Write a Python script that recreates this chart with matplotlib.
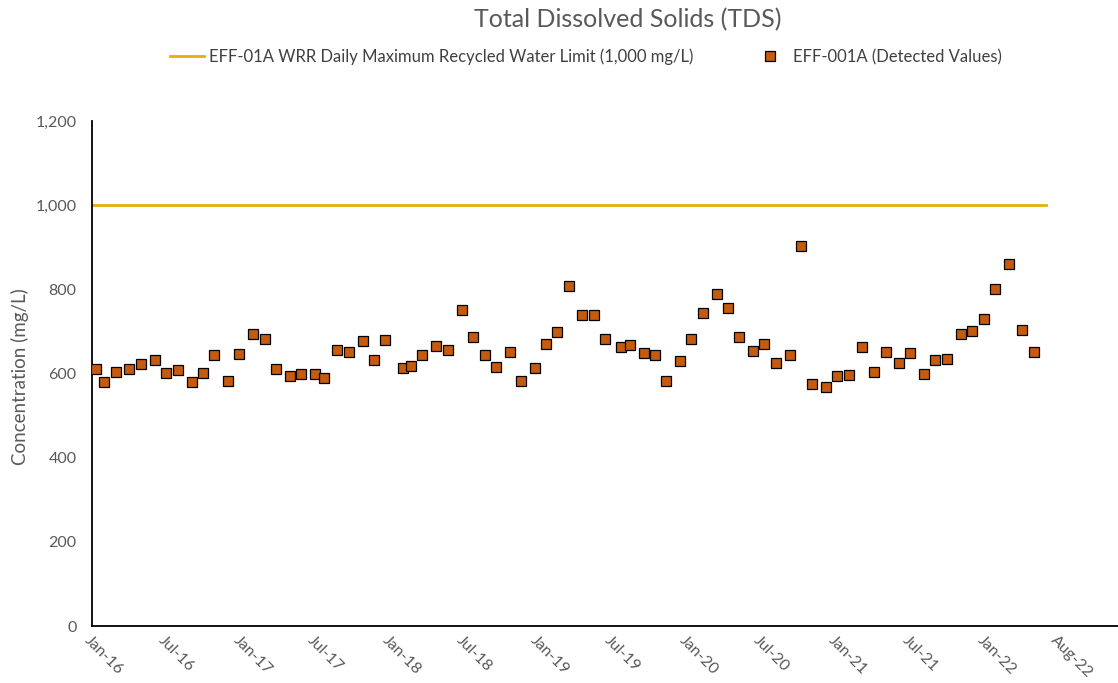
import pandas as pd
import matplotlib.pyplot as plt
import matplotlib.transforms as mtransforms
from matplotlib.ticker import FuncFormatter

# sample dates and TDS results (mg/L)
sample_dates = [
    "2016-01-10", "2016-01-30", "2016-02-28", "2016-04-02", "2016-04-30", "2016-06-04",
    "2016-07-02", "2016-07-30", "2016-09-02", "2016-09-29", "2016-10-27", "2016-12-01",
    "2016-12-28", "2017-01-31", "2017-03-01", "2017-03-28", "2017-05-02", "2017-05-28",
    "2017-07-02", "2017-07-23", "2017-08-26", "2017-09-24", "2017-10-28", "2017-11-25",
    "2017-12-21", "2018-02-02", "2018-02-22", "2018-03-22", "2018-04-26", "2018-05-24",
    "2018-06-27", "2018-07-24", "2018-08-23", "2018-09-19", "2018-10-23", "2018-11-20",
    "2018-12-24", "2019-01-21", "2019-02-16", "2019-03-17", "2019-04-20", "2019-05-18",
    "2019-06-15", "2019-07-25", "2019-08-16", "2019-09-19", "2019-10-15", "2019-11-12",
    "2019-12-16", "2020-01-13", "2020-02-10", "2020-03-15", "2020-04-12", "2020-05-09",
    "2020-06-12", "2020-07-10", "2020-08-07", "2020-09-11", "2020-10-09", "2020-11-04",
    "2020-12-08", "2021-01-05", "2021-02-02", "2021-03-08", "2021-04-06", "2021-05-04",
    "2021-06-07", "2021-07-03", "2021-08-06", "2021-09-03", "2021-10-02", "2021-11-05",
    "2021-12-03", "2022-01-01", "2022-01-27", "2022-03-02", "2022-04-05", "2022-05-03",
]
tds_values = [
    610, 579, 604, 610, 623, 631, 602, 608, 579, 602, 643, 581,
    646, 694, 683, 610, 594, 598, 598, 589, 656, 650, 677, 631,
    679, 614, 618, 644, 665, 656, 750, 686, 644, 616, 652, 581,
    612, 669, 698, 808, 739, 738, 681, 662, 667, 648, 643, 581,
    629, 683, 743, 788, 755, 687, 654, 669, 625, 643, 904, 574,
    568, 595, 597, 662, 603, 650, 626, 648, 599, 633, 635, 694,
    700, 729, 800, 861, 704, 650,
]

limit_dates = ["2016-01-01", "2022-06-01"]
limit_values = [1000, 1000]

tick_dates = [
    "2016-01-01", "2016-07-01", "2017-01-01", "2017-07-01", "2018-01-01",
    "2018-07-01", "2019-01-01", "2019-07-01", "2020-01-01", "2020-07-01",
    "2021-01-01", "2021-07-01", "2022-01-01", "2022-07-01",
]
tick_labels = [
    "Jan-16", "Jul-16", "Jan-17", "Jul-17", "Jan-18", "Jul-18", "Jan-19",
    "Jul-19", "Jan-20", "Jul-20", "Jan-21", "Jul-21", "Jan-22", "Aug-22",
]

plt.rcParams["font.family"] = ["Lato", "DejaVu Sans"]
grey = "#595959"

df = pd.DataFrame({"date": pd.to_datetime(sample_dates), "tds": tds_values})

fig = plt.figure(figsize=(11.18, 6.83), dpi=100)
ax = fig.add_axes([92 / 1118, 1 - 626 / 683, 1 - 92 / 1118, (626 - 121) / 683])

ax.plot(pd.to_datetime(limit_dates), limit_values, color="#E5AE0B", lw=2.0,
        label="EFF-01A WRR Daily Maximum Recycled Water Limit (1,000 mg/L)", zorder=2)
ax.plot(df["date"], df["tds"], ls="none", marker="s", ms=6.5, mfc="#C55A11",
        mec="black", mew=0.9, label="EFF-001A (Detected Values)", zorder=3)

ax.set_ylim(0, 1200)
ax.set_yticks(range(0, 1201, 200))
ax.yaxis.set_major_formatter(FuncFormatter(lambda v, p: f"{int(v):,}"))
ax.set_xlim(pd.Timestamp("2016-01-01"), pd.Timestamp("2022-11-26"))
ax.set_xticks(pd.to_datetime(tick_dates))
ax.set_xticklabels(tick_labels, rotation=-45, ha="left", va="top",
                   rotation_mode="anchor")
shift = mtransforms.ScaledTranslation(5 / 100, 0, fig.dpi_scale_trans)
for lbl in ax.get_xticklabels():
    lbl.set_transform(lbl.get_transform() + shift)

ax.tick_params(axis="both", length=0, colors=grey, labelsize=11.5)
ax.tick_params(axis="x", pad=5)
ax.tick_params(axis="y", pad=11)
for side in ["top", "right"]:
    ax.spines[side].set_visible(False)
for side in ["left", "bottom"]:
    ax.spines[side].set_color("black")
    ax.spines[side].set_linewidth(1.3)

fig.text(20 / 1118, 1 - 377 / 683, "Concentration (mg/L)", rotation=90,
         ha="center", va="center", color=grey, fontsize=13.5)
fig.text(628 / 1118, 1 - 20 / 683, "Total Dissolved Solids (TDS)", ha="center",
         va="center", color=grey, fontsize=18)

leg = fig.legend(loc="center", bbox_to_anchor=(586 / 1118, 0.917), ncol=2,
                 frameon=False, fontsize=12, handlelength=2.0, columnspacing=3.6,
                 handletextpad=0.35)
for t in leg.get_texts():
    t.set_color("#404040")

fig.savefig("out.png", dpi=100)
